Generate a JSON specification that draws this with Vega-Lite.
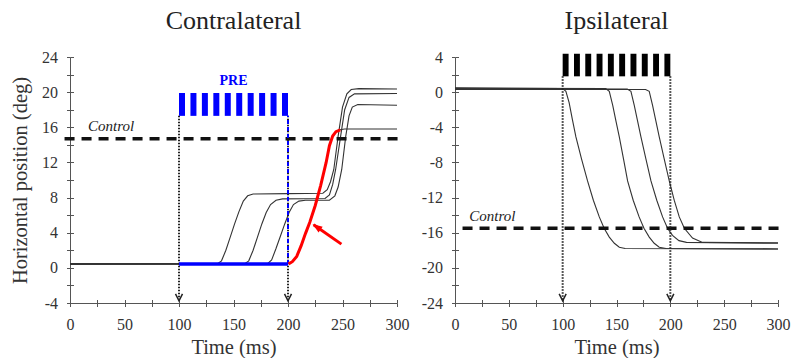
{
  "$schema": "https://vega.github.io/schema/vega-lite/v6.json",
  "background": "white",
  "padding": {"left": 10, "top": 8, "right": 5, "bottom": 0},
  "spacing": 12,
  "config": {
    "font": "Liberation Serif",
    "view": {"stroke": null},
    "axis": {"grid": false, "domainColor": "#555", "tickColor": "#555", "labelColor": "#333", "titleColor": "#333", "labelFontSize": 16, "titleFontSize": 20.5, "titleFontWeight": "normal", "labelFont": "Liberation Serif", "titleFont": "Liberation Serif", "tickWidth": 1, "domainWidth": 1},
    "title": {"font": "Liberation Serif", "fontSize": 26, "fontWeight": "normal", "color": "#222", "offset": 15}
  },
  "datasets": {
    "tracesL": [
      {"s": "A", "t": 0, "v": 0.5}, {"s": "A", "t": 50, "v": 0.45}, {"s": "A", "t": 100, "v": 0.45}, {"s": "A", "t": 135, "v": 0.45}, {"s": "A", "t": 139, "v": 0.8}, {"s": "A", "t": 143, "v": 2.0}, {"s": "A", "t": 147, "v": 3.5}, {"s": "A", "t": 151, "v": 5.0}, {"s": "A", "t": 155, "v": 6.4}, {"s": "A", "t": 159, "v": 7.6}, {"s": "A", "t": 163, "v": 8.2}, {"s": "A", "t": 168, "v": 8.4}, {"s": "A", "t": 200, "v": 8.45}, {"s": "A", "t": 232, "v": 8.5}, {"s": "A", "t": 236, "v": 8.9}, {"s": "A", "t": 239, "v": 9.8}, {"s": "A", "t": 242, "v": 11.2}, {"s": "A", "t": 246, "v": 15.0}, {"s": "A", "t": 250, "v": 18.3}, {"s": "A", "t": 254, "v": 19.8}, {"s": "A", "t": 258, "v": 20.3}, {"s": "A", "t": 265, "v": 20.4}, {"s": "A", "t": 300, "v": 20.35},
      {"s": "B", "t": 0, "v": 0.4}, {"s": "B", "t": 100, "v": 0.45}, {"s": "B", "t": 160, "v": 0.45}, {"s": "B", "t": 164, "v": 0.8}, {"s": "B", "t": 168, "v": 2.0}, {"s": "B", "t": 172, "v": 3.5}, {"s": "B", "t": 176, "v": 5.0}, {"s": "B", "t": 180, "v": 6.3}, {"s": "B", "t": 184, "v": 7.2}, {"s": "B", "t": 189, "v": 7.7}, {"s": "B", "t": 195, "v": 7.85}, {"s": "B", "t": 234, "v": 7.9}, {"s": "B", "t": 238, "v": 8.3}, {"s": "B", "t": 241, "v": 9.5}, {"s": "B", "t": 243.7, "v": 11.2}, {"s": "B", "t": 248.3, "v": 15.0}, {"s": "B", "t": 252, "v": 18.0}, {"s": "B", "t": 256, "v": 19.4}, {"s": "B", "t": 261, "v": 19.8}, {"s": "B", "t": 300, "v": 19.85},
      {"s": "C", "t": 0, "v": 0.45}, {"s": "C", "t": 100, "v": 0.45}, {"s": "C", "t": 181, "v": 0.45}, {"s": "C", "t": 185, "v": 0.9}, {"s": "C", "t": 189, "v": 2.2}, {"s": "C", "t": 193, "v": 3.6}, {"s": "C", "t": 197, "v": 5.0}, {"s": "C", "t": 201, "v": 6.3}, {"s": "C", "t": 205, "v": 7.2}, {"s": "C", "t": 210, "v": 7.6}, {"s": "C", "t": 216, "v": 7.7}, {"s": "C", "t": 238, "v": 7.7}, {"s": "C", "t": 243, "v": 8.2}, {"s": "C", "t": 246, "v": 9.2}, {"s": "C", "t": 249.3, "v": 11.2}, {"s": "C", "t": 253, "v": 15.0}, {"s": "C", "t": 256, "v": 17.3}, {"s": "C", "t": 259, "v": 18.3}, {"s": "C", "t": 264, "v": 18.6}, {"s": "C", "t": 300, "v": 18.5},
      {"s": "D1", "t": 0, "v": 0.45}, {"s": "D1", "t": 100, "v": 0.45},
      {"s": "D2", "t": 246, "v": 15.7}, {"s": "D2", "t": 252, "v": 15.8}, {"s": "D2", "t": 300, "v": 15.8}
    ],
    "redL": [
      {"t": 200.5, "v": 0.45}, {"t": 204, "v": 0.7}, {"t": 208, "v": 1.3}, {"t": 212, "v": 2.5}, {"t": 216, "v": 3.9}, {"t": 220, "v": 5.2}, {"t": 225, "v": 7.1}, {"t": 230, "v": 9.4}, {"t": 235, "v": 12.0}, {"t": 238, "v": 13.9}, {"t": 241, "v": 15.0}, {"t": 244, "v": 15.5}, {"t": 248, "v": 15.7}
    ],
    "tracesR": [
      {"s": "E", "t": 0, "v": 0.5}, {"s": "E", "t": 50, "v": 0.45}, {"s": "E", "t": 100, "v": 0.4}, {"s": "E", "t": 103, "v": 0.1}, {"s": "E", "t": 106, "v": -1.2}, {"s": "E", "t": 109, "v": -3.1}, {"s": "E", "t": 112.3, "v": -5.1}, {"s": "E", "t": 117.5, "v": -7.6}, {"s": "E", "t": 123.1, "v": -10.1}, {"s": "E", "t": 128.5, "v": -12.3}, {"s": "E", "t": 134, "v": -14.2}, {"s": "E", "t": 138.5, "v": -15.5}, {"s": "E", "t": 143.3, "v": -16.5}, {"s": "E", "t": 148, "v": -17.2}, {"s": "E", "t": 152.6, "v": -17.65}, {"s": "E", "t": 158, "v": -17.8}, {"s": "E", "t": 300, "v": -17.85},
      {"s": "F", "t": 0, "v": 0.45}, {"s": "F", "t": 140, "v": 0.4}, {"s": "F", "t": 143.3, "v": 0.1}, {"s": "F", "t": 146.5, "v": -1.5}, {"s": "F", "t": 149.5, "v": -3.3}, {"s": "F", "t": 152.6, "v": -5.1}, {"s": "F", "t": 156.5, "v": -7.6}, {"s": "F", "t": 160.3, "v": -10.1}, {"s": "F", "t": 165.5, "v": -12.3}, {"s": "F", "t": 171, "v": -14.2}, {"s": "F", "t": 175.5, "v": -15.5}, {"s": "F", "t": 180.4, "v": -16.5}, {"s": "F", "t": 185, "v": -17.2}, {"s": "F", "t": 189.7, "v": -17.65}, {"s": "F", "t": 196, "v": -17.8}, {"s": "F", "t": 300, "v": -17.85},
      {"s": "G", "t": 0, "v": 0.4}, {"s": "G", "t": 160, "v": 0.35}, {"s": "G", "t": 163.4, "v": 0.1}, {"s": "G", "t": 166.5, "v": -1.5}, {"s": "G", "t": 169.6, "v": -3.3}, {"s": "G", "t": 172.7, "v": -5.1}, {"s": "G", "t": 177.3, "v": -7.6}, {"s": "G", "t": 182, "v": -10.1}, {"s": "G", "t": 187.4, "v": -12.3}, {"s": "G", "t": 192.8, "v": -14.2}, {"s": "G", "t": 197.4, "v": -15.5}, {"s": "G", "t": 202, "v": -16.3}, {"s": "G", "t": 208, "v": -16.9}, {"s": "G", "t": 215, "v": -17.1}, {"s": "G", "t": 300, "v": -17.2},
      {"s": "H", "t": 0, "v": 0.3}, {"s": "H", "t": 177, "v": 0.3}, {"s": "H", "t": 180.4, "v": 0.1}, {"s": "H", "t": 183.5, "v": -1.5}, {"s": "H", "t": 186.6, "v": -3.3}, {"s": "H", "t": 189.7, "v": -5.1}, {"s": "H", "t": 194.3, "v": -7.6}, {"s": "H", "t": 199, "v": -10.1}, {"s": "H", "t": 203.6, "v": -12.3}, {"s": "H", "t": 208.3, "v": -14.2}, {"s": "H", "t": 213, "v": -15.5}, {"s": "H", "t": 220.6, "v": -16.6}, {"s": "H", "t": 229.9, "v": -17.1}, {"s": "H", "t": 300, "v": -17.15}
    ],
    "pulsesL": [
      {"t0": 100, "t1": 105.5, "lo": 17.3, "hi": 19.9}, {"t0": 110.5, "t1": 116, "lo": 17.3, "hi": 19.9}, {"t0": 121, "t1": 126.5, "lo": 17.3, "hi": 19.9}, {"t0": 131.5, "t1": 137, "lo": 17.3, "hi": 19.9}, {"t0": 142, "t1": 147.5, "lo": 17.3, "hi": 19.9}, {"t0": 152.5, "t1": 158, "lo": 17.3, "hi": 19.9}, {"t0": 163, "t1": 168.5, "lo": 17.3, "hi": 19.9}, {"t0": 173.5, "t1": 179, "lo": 17.3, "hi": 19.9}, {"t0": 184, "t1": 189.5, "lo": 17.3, "hi": 19.9}, {"t0": 194.5, "t1": 200, "lo": 17.3, "hi": 19.9}
    ],
    "pulsesR": [
      {"t0": 100, "t1": 105.5, "lo": 1.8, "hi": 4.37}, {"t0": 110.5, "t1": 116, "lo": 1.8, "hi": 4.37}, {"t0": 121, "t1": 126.5, "lo": 1.8, "hi": 4.37}, {"t0": 131.5, "t1": 137, "lo": 1.8, "hi": 4.37}, {"t0": 142, "t1": 147.5, "lo": 1.8, "hi": 4.37}, {"t0": 152.5, "t1": 158, "lo": 1.8, "hi": 4.37}, {"t0": 163, "t1": 168.5, "lo": 1.8, "hi": 4.37}, {"t0": 173.5, "t1": 179, "lo": 1.8, "hi": 4.37}, {"t0": 184, "t1": 189.5, "lo": 1.8, "hi": 4.37}, {"t0": 194.5, "t1": 200, "lo": 1.8, "hi": 4.37}
    ]
  },
  "hconcat": [
    {
      "width": 327,
      "height": 246,
      "title": {"text": "Contralateral"},
      "resolve": {"axis": {"x": "independent", "y": "independent"}},
      "layer": [
        {
          "data": {"name": "tracesL"},
          "mark": {"type": "line", "color": "#333", "strokeWidth": 1.1},
          "encoding": {
            "x": {"field": "t", "type": "quantitative", "scale": {"domain": [0, 300], "nice": false},
              "axis": {"orient": "bottom", "values": [0, 25, 50, 75, 100, 125, 150, 175, 200, 225, 250, 275, 300], "labelExpr": "datum.value % 50 === 0 ? '' + datum.value : ''", "title": "Time (ms)", "tickSize": 3.5, "labelPadding": 10, "titlePadding": 5, "labelFlush": false, "labelOverlap": false}},
            "y": {"field": "v", "type": "quantitative", "scale": {"domain": [-4, 24], "nice": false, "zero": false},
              "axis": {"orient": "left", "values": [-4, -2, 0, 2, 4, 6, 8, 10, 12, 14, 16, 18, 20, 22, 24], "labelExpr": "datum.value % 4 === 0 ? '' + datum.value : ''", "title": "Horizontal position (deg)", "tickSize": 3.5, "labelPadding": 9, "titlePadding": 11, "labelFlush": false, "labelOverlap": false}},
            "detail": {"field": "s"}
          }
        },
        {
          "data": {"values": [{"a": -5, "b": 302, "y": 14.7}]},
          "mark": {"type": "rule", "color": "#111", "strokeWidth": 3.5, "strokeDash": [10, 7]},
          "encoding": {
            "x": {"field": "a", "type": "quantitative",
              "axis": {"orient": "bottom", "values": [0, 25, 50, 75, 100, 125, 150, 175, 200, 225, 250, 275, 300], "labels": false, "domain": false, "tickSize": -3.5, "title": null}},
            "x2": {"field": "b"},
            "y": {"field": "y", "type": "quantitative",
              "axis": {"orient": "left", "values": [-4, -2, 0, 2, 4, 6, 8, 10, 12, 14, 16, 18, 20, 22, 24], "labels": false, "domain": false, "tickSize": -3.5, "title": null}}
          }
        },
        {
          "data": {"values": [{"t": 100, "a": 17.3, "b": -3.8}, {"t": 200, "a": 17.3, "b": -3.8}]},
          "mark": {"type": "rule", "color": "#222", "strokeWidth": 2, "strokeDash": [1.5, 1.5]},
          "encoding": {
            "x": {"field": "t", "type": "quantitative", "axis": null},
            "y": {"field": "a", "type": "quantitative", "axis": null},
            "y2": {"field": "b"}
          }
        },
        {
          "data": {"values": [{"t": 100, "u": 200, "y": 0.45}]},
          "mark": {"type": "rule", "color": "#0000ff", "strokeWidth": 3.5},
          "encoding": {
            "x": {"field": "t", "type": "quantitative", "axis": null},
            "x2": {"field": "u"},
            "y": {"field": "y", "type": "quantitative", "axis": null}
          }
        },
        {
          "data": {"values": [{"t": 200, "a": 0.45, "b": 17.3}]},
          "mark": {"type": "rule", "color": "#0000ff", "strokeWidth": 2, "strokeDash": [4, 3]},
          "encoding": {
            "x": {"field": "t", "type": "quantitative", "axis": null},
            "y": {"field": "a", "type": "quantitative", "axis": null},
            "y2": {"field": "b"}
          }
        },
        {
          "data": {"name": "pulsesL"},
          "mark": {"type": "rect", "color": "#0000ff"},
          "encoding": {
            "x": {"field": "t0", "type": "quantitative", "axis": null},
            "x2": {"field": "t1"},
            "y": {"field": "lo", "type": "quantitative", "axis": null},
            "y2": {"field": "hi"}
          }
        },
        {
          "data": {"name": "redL"},
          "mark": {"type": "line", "color": "#ff0000", "strokeWidth": 3},
          "encoding": {
            "x": {"field": "t", "type": "quantitative", "axis": null},
            "y": {"field": "v", "type": "quantitative", "axis": null}
          }
        },
        {
          "data": {"values": [{"t": 249, "v": 2.7, "t2": 223.5, "v2": 4.9}]},
          "mark": {"type": "rule", "color": "#ff0000", "strokeWidth": 3},
          "encoding": {
            "x": {"field": "t", "type": "quantitative", "axis": null},
            "y": {"field": "v", "type": "quantitative", "axis": null},
            "x2": {"field": "t2"},
            "y2": {"field": "v2"}
          }
        },
        {
          "data": {"values": [{"t": 222.5, "v": 5.0}]},
          "mark": {"type": "point", "shape": "M0,0L0.65,1.8L-0.65,1.8Z", "size": 121, "filled": true, "color": "#ff0000", "opacity": 1, "angle": 305},
          "encoding": {
            "x": {"field": "t", "type": "quantitative", "axis": null},
            "y": {"field": "v", "type": "quantitative", "axis": null}
          }
        },
        {
          "data": {"values": [{"t": 100, "v": -3.76}, {"t": 200, "v": -3.76}]},
          "mark": {"type": "point", "shape": "M-1,-2L0,0L1,-2", "size": 49, "filled": false, "color": "#222", "strokeWidth": 1.5, "opacity": 1},
          "encoding": {
            "x": {"field": "t", "type": "quantitative", "axis": null},
            "y": {"field": "v", "type": "quantitative", "axis": null}
          }
        },
        {
          "data": {"values": [{"t": 150, "v": 21.3, "label": "PRE"}]},
          "mark": {"type": "text", "color": "#0000ff", "fontWeight": "bold", "fontSize": 14, "font": "Liberation Serif", "baseline": "middle", "align": "center"},
          "encoding": {
            "x": {"field": "t", "type": "quantitative", "axis": null},
            "y": {"field": "v", "type": "quantitative", "axis": null},
            "text": {"field": "label"}
          }
        },
        {
          "data": {"values": [{"t": 16.5, "v": 16.2, "label": "Control"}]},
          "mark": {"type": "text", "color": "#222", "fontStyle": "italic", "fontSize": 15, "font": "Liberation Serif", "baseline": "middle", "align": "left"},
          "encoding": {
            "x": {"field": "t", "type": "quantitative", "axis": null},
            "y": {"field": "v", "type": "quantitative", "axis": null},
            "text": {"field": "label"}
          }
        }
      ]
    },
    {
      "width": 323,
      "height": 246,
      "title": {"text": "Ipsilateral"},
      "resolve": {"axis": {"x": "independent", "y": "independent"}},
      "layer": [
        {
          "data": {"name": "tracesR"},
          "mark": {"type": "line", "color": "#333", "strokeWidth": 1.1},
          "encoding": {
            "x": {"field": "t", "type": "quantitative", "scale": {"domain": [0, 300], "nice": false},
              "axis": {"orient": "bottom", "values": [0, 25, 50, 75, 100, 125, 150, 175, 200, 225, 250, 275, 300], "labelExpr": "datum.value % 50 === 0 ? '' + datum.value : ''", "title": "Time (ms)", "tickSize": 3.5, "labelPadding": 10, "titlePadding": 5, "labelFlush": false, "labelOverlap": false}},
            "y": {"field": "v", "type": "quantitative", "scale": {"domain": [-24, 4], "nice": false, "zero": false},
              "axis": {"orient": "left", "values": [-24, -22, -20, -18, -16, -14, -12, -10, -8, -6, -4, -2, 0, 2, 4], "labelExpr": "datum.value % 4 === 0 ? '' + datum.value : ''", "title": null, "tickSize": 3.5, "labelPadding": 9, "labelFlush": false, "labelOverlap": false}},
            "detail": {"field": "s"}
          }
        },
        {
          "data": {"values": [{"a": 7, "b": 305, "y": -15.5}]},
          "mark": {"type": "rule", "color": "#111", "strokeWidth": 3.5, "strokeDash": [10, 7]},
          "encoding": {
            "x": {"field": "a", "type": "quantitative",
              "axis": {"orient": "bottom", "values": [0, 25, 50, 75, 100, 125, 150, 175, 200, 225, 250, 275, 300], "labels": false, "domain": false, "tickSize": -3.5, "title": null}},
            "x2": {"field": "b"},
            "y": {"field": "y", "type": "quantitative",
              "axis": {"orient": "left", "values": [-24, -22, -20, -18, -16, -14, -12, -10, -8, -6, -4, -2, 0, 2, 4], "labels": false, "domain": false, "tickSize": -3.5, "title": null}}
          }
        },
        {
          "data": {"values": [{"t": 100, "a": 1.8, "b": -23.76}, {"t": 200, "a": 1.8, "b": -23.76}]},
          "mark": {"type": "rule", "color": "#222", "strokeWidth": 2, "strokeDash": [1.5, 1.5]},
          "encoding": {
            "x": {"field": "t", "type": "quantitative", "axis": null},
            "y": {"field": "a", "type": "quantitative", "axis": null},
            "y2": {"field": "b"}
          }
        },
        {
          "data": {"name": "pulsesR"},
          "mark": {"type": "rect", "color": "#000"},
          "encoding": {
            "x": {"field": "t0", "type": "quantitative", "axis": null},
            "x2": {"field": "t1"},
            "y": {"field": "lo", "type": "quantitative", "axis": null},
            "y2": {"field": "hi"}
          }
        },
        {
          "data": {"values": [{"t": 100, "v": -23.76}, {"t": 200, "v": -23.76}]},
          "mark": {"type": "point", "shape": "M-1,-2L0,0L1,-2", "size": 49, "filled": false, "color": "#222", "strokeWidth": 1.5, "opacity": 1},
          "encoding": {
            "x": {"field": "t", "type": "quantitative", "axis": null},
            "y": {"field": "v", "type": "quantitative", "axis": null}
          }
        },
        {
          "data": {"values": [{"t": 13.3, "v": -14.1, "label": "Control"}]},
          "mark": {"type": "text", "color": "#222", "fontStyle": "italic", "fontSize": 15, "font": "Liberation Serif", "baseline": "middle", "align": "left"},
          "encoding": {
            "x": {"field": "t", "type": "quantitative", "axis": null},
            "y": {"field": "v", "type": "quantitative", "axis": null},
            "text": {"field": "label"}
          }
        }
      ]
    }
  ]
}
